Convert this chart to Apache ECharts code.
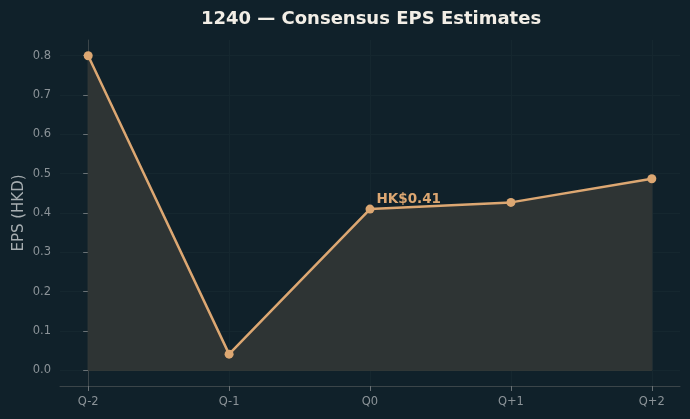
<!DOCTYPE html>
<html>
<head>
<meta charset="utf-8">
<script src="https://cdn.jsdelivr.net/npm/echarts@6/dist/echarts.min.js"></script>
<style>
  html, body { margin: 0; padding: 0; background: #10212a; }
  #container1 { width: 690px; height: 419px; }
</style>
</head>
<body>
<div id="container1"></div>
<script>
var categories = ['Q-2', 'Q-1', 'Q0', 'Q+1', 'Q+2'];
var epsValues = [0.80, 0.041, 0.41, 0.427, 0.487];
var yTicks = [0, 0.1, 0.2, 0.3, 0.4, 0.5, 0.6, 0.7, 0.8];
var highlightIndex = 2;
var highlightLabel = 'HK$0.41';

var dom = document.getElementById("container1");
var myChart = echarts.init(dom);

var xTicks = categories.map(function (c, i) { return i; });
var lastIdx = epsValues.length - 1;
var seriesData = epsValues.map(function (v, i) {
    var item = { value: [i, v] };
    if (i === highlightIndex) {
        item.label = {
            show: true,
            position: [11, -12],
            formatter: highlightLabel,
            color: '#dca772',
            fontWeight: 'bold',
            fontSize: 13.5,
            fontFamily: 'DejaVu Sans'
        };
    }
    return item;
});
// outline of the filled area (sides and baseline)
var areaEdge = [[0, epsValues[0]], [0, 0], [lastIdx, 0], [lastIdx, epsValues[lastIdx]]];

var option = {
    backgroundColor: '#10212a',
    title: {
        text: '1240 — Consensus EPS Estimates',
        left: 366,
        textAlign: 'center',
        top: 5,
        textStyle: {
            color: '#f2eee6',
            fontSize: 18,
            fontWeight: 'bold',
            fontFamily: 'DejaVu Sans'
        }
    },
    grid: {
        left: 60,
        right: 10,
        top: 40,
        bottom: 33
    },
    xAxis: {
        type: 'value',
        min: -0.2,
        max: 4.2,
        axisLine: { show: true, onZero: false, lineStyle: { color: '#3b4549', width: 1 } },
        axisTick: { show: true, customValues: xTicks, length: 5, lineStyle: { color: '#6a7276' } },
        axisLabel: {
            customValues: xTicks,
            formatter: function (v) { return categories[v]; },
            color: '#8b9398',
            fontSize: 11.5,
            fontFamily: 'DejaVu Sans',
            margin: 10
        },
        splitLine: { show: true, lineStyle: { color: '#15272f', width: 1 } }
    },
    yAxis: {
        type: 'value',
        min: -0.04,
        max: 0.84,
        name: 'EPS (HKD)',
        nameLocation: 'middle',
        nameGap: 33,
        nameMoveOverlap: false,
        nameTextStyle: { color: '#a6adb0', fontSize: 15, fontFamily: 'DejaVu Sans' },
        axisLine: { show: true, lineStyle: { color: '#3b4549', width: 1 } },
        axisTick: { show: true, customValues: yTicks, length: 5, lineStyle: { color: '#6a7276' } },
        axisLabel: {
            customValues: yTicks,
            formatter: function (v) { return v.toFixed(1); },
            color: '#8b9398',
            fontSize: 11.5,
            fontFamily: 'DejaVu Sans',
            margin: 9
        },
        splitLine: { show: true, lineStyle: { color: '#15272f', width: 1 } }
    },
    series: [
        {
            type: 'line',
            data: areaEdge,
            symbol: 'none',
            silent: true,
            lineStyle: { color: '#3c3f3a', width: 1 },
            z: 2
        },
        {
            type: 'line',
            data: seriesData,
            symbol: 'circle',
            symbolSize: 9,
            itemStyle: { color: '#dca772' },
            lineStyle: { color: '#dca772', width: 2.5 },
            areaStyle: { color: '#2e3434', opacity: 1, origin: 'auto' },
            z: 3
        }
    ]
};

if (option && typeof option === "object") {
    myChart.setOption(option, true);
}
</script>
</body>
</html>
